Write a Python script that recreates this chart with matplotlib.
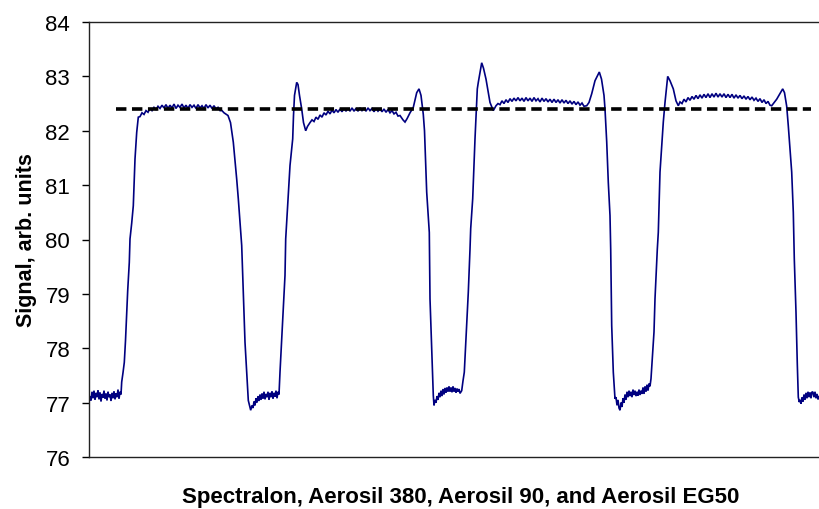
import matplotlib
matplotlib.use("Agg")
import matplotlib.pyplot as plt

plt.rcParams['font.family'] = ['Liberation Sans', 'DejaVu Sans']
plt.rcParams['lines.scale_dashes'] = False

# sample position (arbitrary scan units) and signal values
sample = [
    # low level 1
    89, 90, 91, 92, 93, 94, 95, 96, 97, 98, 99, 100, 101, 102, 103, 104, 105, 106, 107, 108,
    109, 110, 111, 112, 113, 114, 115, 116, 117, 118, 119, 120, 121,
    # rise 1 and plateau 1
    121.7, 123, 124.3, 125.5, 126.7, 127.7, 129.3, 130, 131.7, 133.3, 135, 136.7, 138.3,
    140, 142, 144, 146, 148, 150, 152, 154, 156, 158, 160, 162, 164, 166, 168, 170, 172, 174,
    176, 178, 180, 182, 184, 186, 188, 190, 192, 194, 196, 198, 200, 202, 204, 206, 208, 210,
    212, 214, 216, 218, 220, 222, 224, 228, 230.5,
    # fall 1 and low level 2
    233.3, 236.7, 238.3, 241.7, 242.7, 245, 247.3, 248.3, 249.5, 250.7, 252, 253, 254, 255,
    256, 257, 258, 259, 260, 261, 262, 263, 264, 265, 266, 267, 268, 269, 270, 271, 272, 273,
    274, 275, 276, 277, 278, 279,
    # rise 2 and plateau 2
    280, 281.7, 283.3, 285, 285.7, 287.3, 290, 292.7, 293.5, 294.5, 296.7, 298, 299.5, 301.7,
    303.5, 305.7, 307.5, 310, 312, 314, 316, 318, 320, 322, 324, 326, 328, 330, 332, 334, 336,
    338, 340, 342, 344, 346, 348, 350, 352, 354, 356, 358, 360, 362, 364, 366, 368, 370, 372,
    374, 376, 378, 380, 382, 384, 386, 388, 390, 392, 394, 396, 398, 400, 403,
    405, 407, 410, 413.3, 416.7, 419, 421, 423.3, 424.5,
    # fall 2 and low level 3
    426.7, 429.3, 430, 431.7, 433.3, 434,
    435, 436, 437, 438, 439, 440, 441, 442, 443, 444, 445, 446, 447, 448, 449, 450, 451, 452,
    453, 454, 455, 456, 457, 458, 459, 460, 461.7,
    # rise 3 and plateau 3
    463, 464.3, 466.7, 468.3, 470, 470.7, 472.7, 475, 477.3, 478.3, 481.7, 483.5, 486, 490,
    493.3, 496, 498, 500, 502, 504, 506, 508, 510, 512, 514, 516, 518, 520, 522, 524, 526, 528,
    530, 532, 534, 536, 538, 540, 542, 544, 546, 548, 550, 552, 554, 556, 558, 560, 562, 564,
    566, 568, 570, 572, 574, 576, 578, 580, 582, 584, 586.7, 589, 591.7,
    595, 599.3, 601.5, 604, 605,
    # fall 3 and low level 4
    606.7, 608.3, 610, 610.7, 611.7, 613.3, 615, 616, 617, 618,
    619, 620, 621, 622, 623, 624, 625, 626, 627, 628, 629, 630, 631, 632, 633, 634, 635, 636,
    637, 638, 639, 640, 641, 642, 643, 644, 645, 646, 647, 648, 649, 650, 651,
    # rise 4 and plateau 4
    652.3, 654, 655, 657.3, 658.3, 660, 663.3, 665, 667.7, 670, 673.3, 676, 678.3,
    680, 682, 684, 686, 688, 690, 692, 694, 696, 698, 700, 702, 704, 706, 708, 710, 712, 714,
    716, 718, 720, 722, 724, 726, 728, 730, 732, 734, 736, 738, 740, 742, 744, 746, 748, 750,
    752, 754, 756, 758, 760, 762, 764, 766, 768, 770, 771.7, 776.7, 782.7, 784.5, 786.7,
    # fall 4 and low level 5
    788.3, 790, 791.7, 793.3, 794.3, 796, 797.3, 798.3, 799.3, 800, 801, 802, 803, 804, 805,
    806, 807, 808, 809, 810, 811, 812, 813, 814, 815, 816, 817, 818, 819, 820,
]
signal = [
    # low level 1
    77.00, 77.12, 77.04, 77.20, 77.08, 77.22, 77.05, 77.18, 77.10, 77.23, 77.06, 77.19, 77.02,
    77.16, 77.09, 77.22, 77.07, 77.17, 77.04, 77.20, 77.10, 77.15, 77.03, 77.18, 77.08, 77.21,
    77.06, 77.17, 77.10, 77.24, 77.07, 77.20, 77.15,
    # rise 1 and plateau 1
    77.38, 77.55, 77.74, 78.14, 78.63, 79.06, 79.58, 80.01, 80.30, 80.62, 81.48, 81.97, 82.25,
    82.26, 82.33, 82.30, 82.37, 82.34, 82.41, 82.37, 82.43, 82.39, 82.45, 82.41, 82.47, 82.42,
    82.48, 82.41, 82.47, 82.42, 82.49, 82.41, 82.47, 82.43, 82.49, 82.42, 82.47, 82.41, 82.48,
    82.43, 82.47, 82.41, 82.48, 82.42, 82.46, 82.41, 82.48, 82.42, 82.47, 82.41, 82.46, 82.40,
    82.43, 82.37, 82.37, 82.33, 82.28, 82.15,
    # fall 1 and low level 2
    81.79, 81.11, 80.75, 79.89, 79.34, 78.11, 77.38, 77.04, 76.95, 76.86, 76.95, 76.90, 77.02,
    76.95, 77.08, 77.00, 77.12, 77.03, 77.15, 77.05, 77.17, 77.07, 77.20, 77.06, 77.16, 77.10,
    77.20, 77.05, 77.18, 77.10, 77.21, 77.07, 77.18, 77.11, 77.22, 77.08, 77.20, 77.15,
    # rise 2 and plateau 2
    77.56, 78.17, 78.72, 79.34, 80.01, 80.50, 81.36, 81.85, 82.28, 82.65, 82.89, 82.85, 82.65,
    82.40, 82.15, 82.00, 82.08, 82.15, 82.20, 82.17, 82.25, 82.21, 82.29, 82.25, 82.33, 82.29,
    82.36, 82.31, 82.38, 82.33, 82.39, 82.34, 82.40, 82.35, 82.41, 82.36, 82.41, 82.36, 82.42,
    82.36, 82.41, 82.36, 82.42, 82.37, 82.41, 82.36, 82.42, 82.37, 82.41, 82.35, 82.41, 82.36,
    82.40, 82.35, 82.40, 82.34, 82.39, 82.33, 82.37, 82.31, 82.34, 82.27, 82.28, 82.20,
    82.16, 82.22, 82.33, 82.43, 82.70, 82.77, 82.65, 82.30, 82.00,
    # fall 2 and low level 3
    80.87, 80.13, 78.91, 77.99, 77.13, 76.95,
    77.05, 77.00, 77.12, 77.05, 77.18, 77.10, 77.22, 77.12, 77.25, 77.15, 77.27, 77.18, 77.28,
    77.20, 77.30, 77.20, 77.28, 77.19, 77.30, 77.20, 77.27, 77.18, 77.26, 77.20, 77.25, 77.17,
    77.22,
    # rise 3 and plateau 3
    77.40, 77.56, 78.42, 79.03, 79.82, 80.20, 80.75, 81.85, 82.77, 82.89, 83.25, 83.15, 82.95,
    82.52, 82.37, 82.46, 82.50, 82.48, 82.55, 82.50, 82.57, 82.52, 82.59, 82.54, 82.60, 82.55,
    82.61, 82.55, 82.60, 82.54, 82.61, 82.55, 82.60, 82.54, 82.61, 82.55, 82.59, 82.53, 82.60,
    82.54, 82.59, 82.53, 82.58, 82.52, 82.58, 82.52, 82.57, 82.51, 82.57, 82.51, 82.56, 82.50,
    82.55, 82.49, 82.54, 82.48, 82.53, 82.47, 82.51, 82.45, 82.46, 82.52, 82.68,
    82.92, 83.08, 82.95, 82.65, 82.40,
    # fall 3 and low level 4
    81.80, 81.05, 80.44, 79.82, 78.42, 77.56, 77.07, 77.10, 76.95, 77.05,
    76.90, 76.86, 77.00, 76.92, 77.08, 77.00, 77.15, 77.05, 77.20, 77.10, 77.22, 77.12, 77.20,
    77.10, 77.24, 77.14, 77.22, 77.12, 77.20, 77.13, 77.24, 77.14, 77.22, 77.16, 77.28, 77.16,
    77.30, 77.20, 77.33, 77.22, 77.35, 77.30, 77.44,
    # rise 4 and plateau 4
    77.80, 78.30, 78.91, 79.82, 80.13, 81.24, 82.16, 82.52, 83.00, 82.92, 82.77, 82.55, 82.46,
    82.53, 82.50, 82.58, 82.53, 82.61, 82.56, 82.63, 82.58, 82.65, 82.59, 82.66, 82.60, 82.67,
    82.61, 82.68, 82.61, 82.68, 82.62, 82.69, 82.62, 82.68, 82.62, 82.68, 82.61, 82.67, 82.61,
    82.67, 82.60, 82.66, 82.60, 82.65, 82.59, 82.64, 82.58, 82.63, 82.57, 82.62, 82.56, 82.60,
    82.54, 82.59, 82.52, 82.57, 82.50, 82.54, 82.47, 82.46, 82.58, 82.77, 82.70, 82.45,
    # fall 4 and low level 5
    82.09, 81.67, 81.24, 80.50, 79.64, 78.66, 77.71, 77.10, 77.01, 77.05, 76.98, 77.10, 77.02,
    77.15, 77.05, 77.18, 77.08, 77.20, 77.10, 77.19, 77.08, 77.20, 77.19, 77.10, 77.20, 77.08,
    77.16, 77.06, 77.12, 77.10,
]
reference_level = 82.4
reference_span = [116, 811]
y_ticks = [76, 77, 78, 79, 80, 81, 82, 83, 84]

fig = plt.figure(figsize=(8.2, 5.1), dpi=100)
ax = fig.add_axes([89 / 820, 1 - 458 / 510, 1 - 89 / 820, (458 - 23) / 510])

ax.plot(sample, signal, color='#000080', lw=1.2, solid_joinstyle='miter')
ax.plot(reference_span, [reference_level, reference_level], color='black', lw=2.6,
        linestyle=(0, (7.5, 4.0)))

ax.set_xlim(89, 820)
ax.set_ylim(76, 84)
ax.set_yticks(y_ticks)
ax.set_xticks([])
ax.tick_params(axis='y', direction='out', length=5, width=1, labelsize=16, pad=8.5)
ax.spines['right'].set_visible(False)
for s in ['left', 'top', 'bottom']:
    ax.spines[s].set_color('#222222')
    ax.spines[s].set_linewidth(1.0)

ax.set_ylabel('Signal, arb. units', fontsize=15.5, fontweight='bold', labelpad=6)
ax.set_xlabel('Spectralon, Aerosil 380, Aerosil 90, and Aerosil EG50', fontsize=16,
              fontweight='bold', labelpad=21)
ax.xaxis.label.set_x(0.508)

fig.savefig('out.png', dpi=100)
